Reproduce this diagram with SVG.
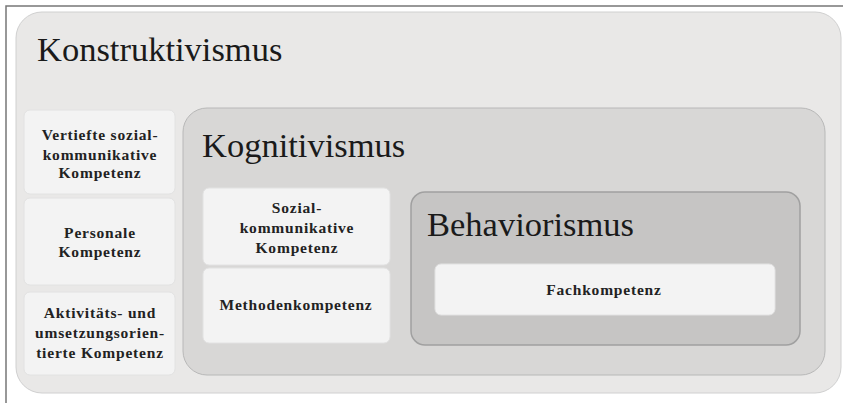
<svg xmlns="http://www.w3.org/2000/svg" width="843" height="403" viewBox="0 0 843 403">
<style>
.big{font-family:"Liberation Serif",serif;font-size:34.5px;fill:#1a1a1a}
.sm{font-family:"Liberation Serif",serif;font-size:15.5px;fill:#222;text-anchor:middle;font-weight:bold;letter-spacing:0.8px}
.card{fill:#f3f3f3;stroke:#e2e2e2;stroke-width:1}
</style>
<rect width="843" height="403" fill="#fff"/>
<path d="M6 403 V6 H843" fill="none" stroke="#777" stroke-width="1.5"/>
<g id="konstruktivismus">
<rect x="16" y="12" width="825" height="381" rx="26" fill="#e9e8e7" stroke="#d0d0d0"/>
<text class="big" x="37" y="61">Konstruktivismus</text>
</g>
<g id="vertiefte">
<rect class="card" x="24" y="110" width="151" height="84" rx="6"/>
<text class="sm" x="100" y="140">Vertiefte sozial-</text>
<text class="sm" x="100" y="160">kommunikative</text>
<text class="sm" x="100" y="178">Kompetenz</text>
</g>
<g id="personale">
<rect class="card" x="24" y="198" width="151" height="87" rx="6"/>
<text class="sm" x="100" y="238">Personale</text>
<text class="sm" x="100" y="257">Kompetenz</text>
</g>
<g id="aktivitaets">
<rect class="card" x="24" y="292" width="151" height="83" rx="6"/>
<text class="sm" x="100" y="318">Aktivitäts- und</text>
<text class="sm" x="100" y="338">umsetzungsorien-</text>
<text class="sm" x="100" y="358">tierte Kompetenz</text>
</g>
<g id="kognitivismus">
<rect x="183" y="108" width="642" height="267" rx="24" fill="#d8d7d6" stroke="#b8b8b8"/>
<text class="big" x="202" y="157">Kognitivismus</text>
</g>
<g id="sozial">
<rect class="card" x="203" y="188" width="187" height="77" rx="6"/>
<text class="sm" x="297" y="213">Sozial-</text>
<text class="sm" x="297" y="233">kommunikative</text>
<text class="sm" x="297" y="253">Kompetenz</text>
</g>
<g id="methoden">
<rect class="card" x="203" y="268" width="187" height="75" rx="6"/>
<text class="sm" x="296" y="310">Methodenkompetenz</text>
</g>
<g id="behaviorismus">
<rect x="411" y="192" width="389" height="153" rx="14" fill="#c6c5c4" stroke="#a0a0a0" stroke-width="1.5"/>
<text class="big" x="427" y="236">Behaviorismus</text>
</g>
<g id="fachkompetenz">
<rect class="card" x="435" y="264" width="340" height="51" rx="6"/>
<text class="sm" x="604" y="295">Fachkompetenz</text>
</g>
<g id="connectors"/>
</svg>
